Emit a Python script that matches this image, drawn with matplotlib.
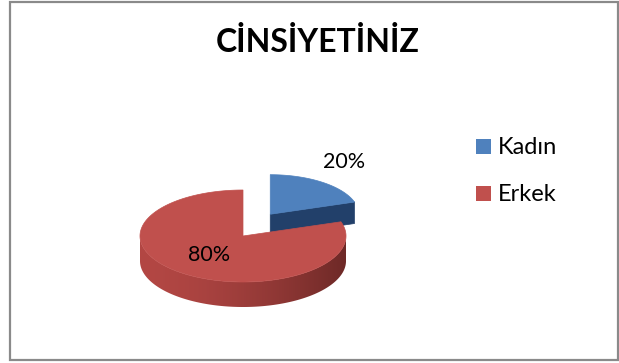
import numpy as np
import matplotlib
matplotlib.use("Agg")
import matplotlib.pyplot as plt
from matplotlib.patches import Polygon, Rectangle, Patch
from matplotlib.colors import to_rgb

# Data
title = "CİNSİYETİNİZ"
categories = ["Kadın", "Erkek"]
values = [20, 80]
labels = ["20%", "80%"]

top_colors = ["#4F81BD", "#C0504D"]
side_light = ["#2F5281", "#B34744"]
side_dark = ["#22406A", "#6E2927"]

W, H = 619, 363
fig = plt.figure(figsize=(W / 100, H / 100), dpi=100)
ax = fig.add_axes([0, 0, 1, 1])

# chart frame
ax.add_patch(Rectangle((9.5, 1.5), 608, 358.5, fill=False, ec="#8A8A8A", lw=1.6))

# 3D pie geometry (pixel space)
cx, cy = 243, 236
rx, ry = 103, 46
depth = 25
explode = [0.45, 0.0]
lift = [5, 0]
scale = [0.86, 1.0]


def pt(ang_deg, r, ox, oy, dz=0.0):
    a = np.radians(ang_deg)
    return ox + rx * r * np.cos(a), oy - ry * r * np.sin(a) + dz


total = sum(values)
start = 90.0
slices = []
for i, v in enumerate(values):
    sweep = 360.0 * v / total
    a0, a1 = start - sweep, start  # clockwise from 12 o'clock
    mid = np.radians((a0 + a1) / 2)
    ox = cx + explode[i] * rx * np.cos(mid)
    oy = cy - explode[i] * ry * np.sin(mid) - lift[i]
    slices.append((a0, a1, ox, oy, scale[i]))
    start = a0


def gradient_fill(poly_pts, c_left, c_right, power=1.6):
    xs = [p[0] for p in poly_pts]
    ys = [p[1] for p in poly_pts]
    x0, x1, y0, y1 = min(xs), max(xs), min(ys), max(ys)
    t = np.linspace(0, 1, 256) ** power
    c0, c1 = np.array(to_rgb(c_left)), np.array(to_rgb(c_right))
    img = (c0[None, :] + (c1 - c0)[None, :] * t[:, None])[None, :, :]
    im = ax.imshow(img, extent=(x0, x1, y1, y0), aspect="auto", interpolation="bilinear", zorder=1)
    clip = Polygon(poly_pts, closed=True, fc="none", ec="none", transform=ax.transData)
    ax.add_patch(clip)
    im.set_clip_path(clip)
    edge = Polygon(poly_pts, closed=True, fill=False, ec="none")
    ax.add_patch(edge)


# draw Kadın (back) first, then Erkek (front)
for i in [0, 1]:
    a0, a1, ox, oy, s = slices[i]
    d = depth * s
    # front-facing part of the outer side
    angs = np.linspace(a0, a1, 400)
    front = [a for a in angs if np.sin(np.radians(a)) < 0]
    if front:
        upper = [pt(a, s, ox, oy) for a in front]
        lower = [pt(a, s, ox, oy, d) for a in front[::-1]]
        gradient_fill(upper + lower, side_light[i], side_dark[i])
    # radial wall at the clockwise edge
    if explode[i] > 0:
        e = pt(a0, s, ox, oy)
        wall = [(ox, oy), e, (e[0], e[1] + d), (ox, oy + d)]
        ax.add_patch(Polygon(wall, closed=True, fc=side_dark[i], ec=side_dark[i], lw=0.5, zorder=2))
    # top face
    arc = np.linspace(a0, a1, 300)
    pts = [(ox, oy)] + [pt(a, s, ox, oy) for a in arc]
    ax.add_patch(Polygon(pts, closed=True, fc=top_colors[i], ec=top_colors[i], lw=0.5, zorder=2 + i))

ax.set_xlim(0, W)
ax.set_ylim(H, 0)
ax.axis("off")

font = "Lato"
# data labels
ax.text(344, 162, labels[0], fontsize=15.5, family=font, ha="center", va="center", color="black", zorder=5)
ax.text(209, 255, labels[1], fontsize=15.5, family=font, ha="center", va="center", color="black", zorder=5)

# title
ax.text(318, 42, title, fontsize=23, family=font, weight="bold", ha="center", va="center", color="black")

# legend
handles = [Patch(fc=c, ec="none") for c in top_colors]
leg = ax.legend(handles, categories, loc="upper left", bbox_to_anchor=(467 / W, 1 - 128 / H),
                frameon=False, prop={"family": font, "size": 17}, handlelength=0.6,
                handleheight=0.6, handletextpad=0.3, labelspacing=1.1, borderaxespad=0)

fig.savefig("out.png", dpi=100)
